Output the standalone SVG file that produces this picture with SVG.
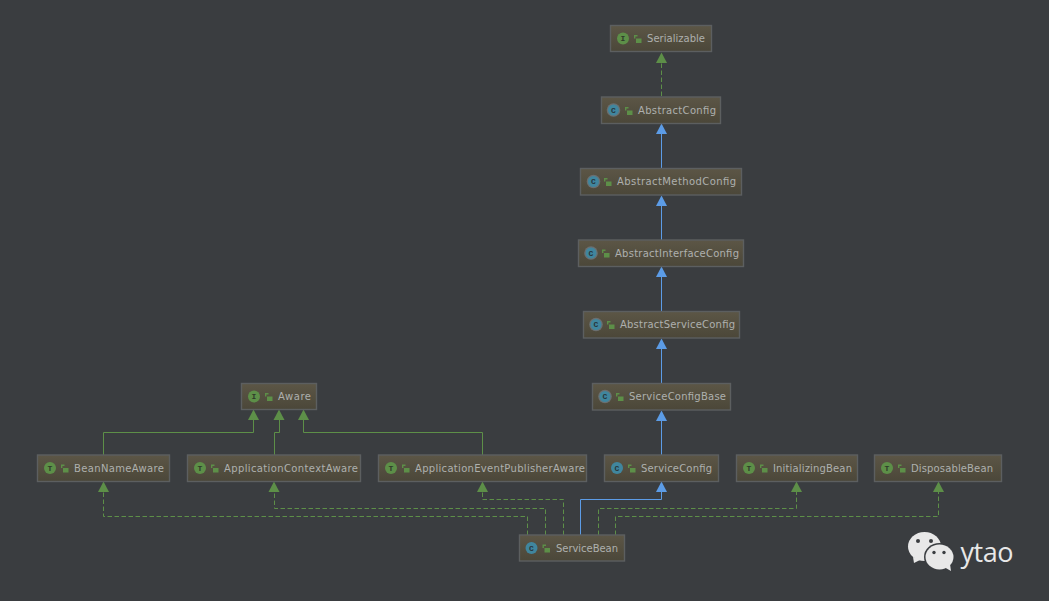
<svg xmlns="http://www.w3.org/2000/svg" width="1049" height="601" viewBox="0 0 1049 601">
<style>
.b{fill:url(#bg);stroke:#5c5f60;stroke-width:1.4}
.t{font-family:"DejaVu Sans",sans-serif;font-size:10px;fill:#aeb0ae}
.ic{font-family:"Liberation Mono",monospace;font-size:8px;font-weight:bold;text-anchor:middle}
.g{fill:#5d8f48}
.c{fill:#40869e}
.ring{fill:#6b6f70}
.l{fill:none;stroke:#5d8f48;stroke-width:1}
.lock{fill:none;stroke:#5d8f48;stroke-width:1.4}
.s{fill:none;stroke:#5c9ce6;stroke-width:1}
.d{fill:none;stroke:#5d8f48;stroke-width:1;stroke-dasharray:4.5 2.5}
.ag{fill:#5d8f48}
.ab{fill:#5c9ce6}
.w{fill:#e8e8e8}
.e{fill:#3a3d40}
</style>
<defs>
<linearGradient id="bg" x1="0" y1="0" x2="0" y2="1"><stop offset="0" stop-color="#5c5646"/><stop offset="1" stop-color="#4b4739"/></linearGradient>
<g id="lk"><rect x="2" y="3.500" width="5.500" height="4.500" fill="#5d8f48"/><path class="lock" d="M0.700 3.500V0.700H3.500"/></g>
<path id="up" d="M0 0L5.500 10.500H-5.500Z"/>
</defs>
<rect width="1049" height="601" fill="#3a3d40"/>
<g id="connectors">
<path class="d" d="M661.500 96V63"/>
<path class="s" d="M661.500 168V134M661.500 240V206M661.500 311V277M661.500 383V349M661.500 455V421"/>
<path class="l" d="M103.500 455V432.500H253.500V419M274.500 455V432.500H279.500V419M303.500 419V432.500H482.500V455"/>
<path class="d" d="M527.500 535V516.500H103.500V491M545.500 535V508.500H274.500V491M563.500 535V499.500H482.500V491M598.500 535V508.500H796.500V491M615.500 535V516.500H938.500V491"/>
<path class="s" d="M580.500 535V499.500H661.500V491"/>
<use href="#up" class="ag" x="661.500" y="52.500"/>
<use href="#up" class="ab" x="661.500" y="123.500"/>
<use href="#up" class="ab" x="661.500" y="195.500"/>
<use href="#up" class="ab" x="661.500" y="266.500"/>
<use href="#up" class="ab" x="661.500" y="338.500"/>
<use href="#up" class="ab" x="661.500" y="410.500"/>
<use href="#up" class="ag" x="253.500" y="409.500"/>
<use href="#up" class="ag" x="279" y="409.500"/>
<use href="#up" class="ag" x="303.500" y="409.500"/>
<use href="#up" class="ag" x="103.500" y="481.500"/>
<use href="#up" class="ag" x="274" y="481.500"/>
<use href="#up" class="ag" x="482.500" y="481.500"/>
<use href="#up" class="ab" x="661.500" y="481.500"/>
<use href="#up" class="ag" x="796.500" y="481.500"/>
<use href="#up" class="ag" x="938.500" y="481.500"/>
</g>
<g id="Serializable"><rect class="b" x="610.500" y="25.500" width="101" height="26"/><circle class="g" cx="623" cy="38.500" r="6"/><text class="ic" x="623" y="41" fill="#2f3a2a">I</text><use href="#lk" x="634" y="35"/><text class="t" x="647" y="41.500" textLength="58">Serializable</text></g>
<g id="AbstractConfig"><rect class="b" x="601.500" y="97" width="119" height="26.500"/><circle class="ring" cx="613.500" cy="110" r="6.800"/><circle class="c" cx="613.500" cy="110" r="5.500"/><text class="ic" x="613.500" y="112.500" fill="#27343a">C</text><use href="#lk" x="625" y="107"/><text class="t" x="638" y="113.500" textLength="78">AbstractConfig</text></g>
<g id="AbstractMethodConfig"><rect class="b" x="580.500" y="168.500" width="161" height="26.500"/><circle class="ring" cx="593.500" cy="181.500" r="6.800"/><circle class="c" cx="593.500" cy="181.500" r="5.500"/><text class="ic" x="593.500" y="184" fill="#27343a">C</text><use href="#lk" x="604" y="178"/><text class="t" x="617" y="185" textLength="119">AbstractMethodConfig</text></g>
<g id="AbstractInterfaceConfig"><rect class="b" x="578.500" y="240" width="165" height="26.500"/><circle class="ring" cx="591" cy="253" r="6.800"/><circle class="c" cx="591" cy="253" r="5.500"/><text class="ic" x="591" y="255.500" fill="#27343a">C</text><use href="#lk" x="602" y="249.500"/><text class="t" x="615" y="256.500" textLength="124">AbstractInterfaceConfig</text></g>
<g id="AbstractServiceConfig"><rect class="b" x="583.500" y="311.500" width="156" height="26.500"/><circle class="ring" cx="596" cy="324.500" r="6.800"/><circle class="c" cx="596" cy="324.500" r="5.500"/><text class="ic" x="596" y="327" fill="#27343a">C</text><use href="#lk" x="607" y="321"/><text class="t" x="620" y="328" textLength="115">AbstractServiceConfig</text></g>
<g id="ServiceConfigBase"><rect class="b" x="592.500" y="383.500" width="138" height="26.500"/><circle class="ring" cx="605" cy="396.500" r="6.800"/><circle class="c" cx="605" cy="396.500" r="5.500"/><text class="ic" x="605" y="399" fill="#27343a">C</text><use href="#lk" x="616" y="393"/><text class="t" x="629" y="400" textLength="97">ServiceConfigBase</text></g>
<g id="Aware"><rect class="b" x="241.500" y="383.500" width="75" height="26"/><circle class="g" cx="254" cy="396.500" r="6"/><text class="ic" x="254" y="399" fill="#2f3a2a">I</text><use href="#lk" x="265" y="393"/><text class="t" x="278" y="400" textLength="33">Aware</text></g>
<g id="BeanNameAware"><rect class="b" x="37.500" y="455" width="132" height="26.500"/><circle class="g" cx="50" cy="468" r="6"/><text class="ic" x="50" y="470.500" fill="#2f3a2a">T</text><use href="#lk" x="61" y="464.500"/><text class="t" x="74" y="471.500" textLength="90">BeanNameAware</text></g>
<g id="ApplicationContextAware"><rect class="b" x="187.500" y="455" width="173" height="26.500"/><circle class="g" cx="200" cy="468" r="6"/><text class="ic" x="200" y="470.500" fill="#2f3a2a">T</text><use href="#lk" x="211" y="464.500"/><text class="t" x="224" y="471.500" textLength="134">ApplicationContextAware</text></g>
<g id="ApplicationEventPublisherAware"><rect class="b" x="378.500" y="455" width="208" height="26.500"/><circle class="g" cx="391" cy="468" r="6"/><text class="ic" x="391" y="470.500" fill="#2f3a2a">T</text><use href="#lk" x="402" y="464.500"/><text class="t" x="415" y="471.500" textLength="170">ApplicationEventPublisherAware</text></g>
<g id="ServiceConfig"><rect class="b" x="604.500" y="455" width="114" height="26.500"/><circle class="c" cx="617" cy="468" r="6"/><text class="ic" x="617" y="470.500" fill="#27343a">C</text><use href="#lk" x="628" y="464.500"/><text class="t" x="641" y="471.500" textLength="71">ServiceConfig</text></g>
<g id="InitializingBean"><rect class="b" x="736.500" y="455" width="121" height="26.500"/><circle class="g" cx="749" cy="468" r="6"/><text class="ic" x="749" y="470.500" fill="#2f3a2a">T</text><use href="#lk" x="760" y="464.500"/><text class="t" x="773" y="471.500" textLength="79">InitializingBean</text></g>
<g id="DisposableBean"><rect class="b" x="874.500" y="455" width="127" height="26.500"/><circle class="g" cx="887" cy="468" r="6"/><text class="ic" x="887" y="470.500" fill="#2f3a2a">T</text><use href="#lk" x="898" y="464.500"/><text class="t" x="911" y="471.500" textLength="82">DisposableBean</text></g>
<g id="ServiceBean"><rect class="b" x="519.500" y="535" width="105" height="26"/><circle class="c" cx="531.500" cy="548" r="6"/><text class="ic" x="531.500" y="550.500" fill="#27343a">C</text><use href="#lk" x="542.500" y="544.500"/><text class="t" x="556" y="551.500" textLength="62">ServiceBean</text></g>
<g id="logo">
<ellipse class="w" cx="924.500" cy="546.500" rx="16.500" ry="14.500"/><path class="w" d="M913 557L914 563L922 559Z"/>
<ellipse cx="939.500" cy="557" rx="15.500" ry="14" fill="#3a3d40"/>
<ellipse class="w" cx="939.500" cy="557" rx="14" ry="12.500"/><path class="w" d="M944 567L951 571L950 564Z"/>
<circle class="e" cx="918" cy="541" r="2"/><circle class="e" cx="931" cy="541" r="2"/>
<circle class="e" cx="934" cy="552.500" r="1.700"/><circle class="e" cx="944" cy="552.500" r="1.700"/>
<text x="960.500" y="561.500" font-family="Open Sans,sans-serif" font-size="27px" fill="#e8e8e8" textLength="53">ytao</text>
</g>
</svg>
